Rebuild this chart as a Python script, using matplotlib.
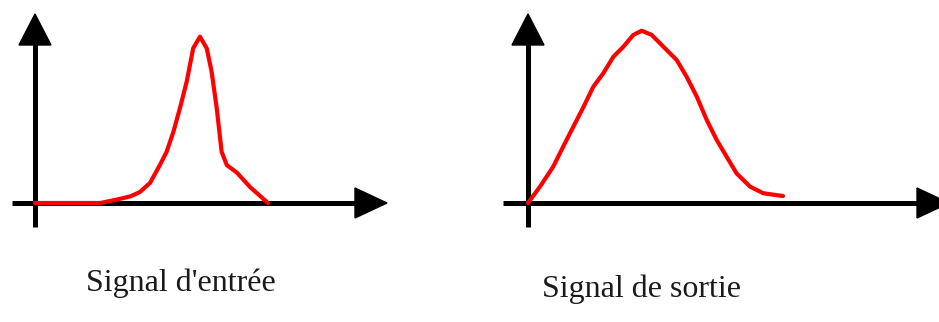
import matplotlib
matplotlib.use("Agg")
import matplotlib.pyplot as plt
from matplotlib.patches import Polygon

# -------------------------
# Data (time in arbitrary units, amplitude normalised)
# -------------------------
t_in = [0, 2.8, 3.5, 4.1, 4.5, 4.94, 5.36, 5.65, 5.94, 6.22, 6.51, 6.79,
        7.08, 7.37, 7.58, 7.80, 8.01, 8.23, 8.67, 9.23, 10.0]
a_in = [0, 0, 0.02, 0.04, 0.065, 0.12, 0.226, 0.305, 0.424, 0.564, 0.722,
        0.921, 0.99, 0.921, 0.782, 0.564, 0.305, 0.226, 0.18, 0.095, 0]

t_out = [0, 0.47, 0.99, 1.38, 1.78, 2.18, 2.56, 2.95, 3.35, 3.74, 4.13,
         4.46, 4.85, 5.44, 5.83, 6.22, 6.62, 7.01, 7.40, 7.79, 8.18, 8.71,
         9.23, 10.0]
a_out = [0, 0.094, 0.209, 0.324, 0.439, 0.553, 0.668, 0.745, 0.841, 0.898,
         0.966, 0.99, 0.966, 0.879, 0.822, 0.726, 0.611, 0.477, 0.362,
         0.266, 0.17, 0.094, 0.056, 0.04]

labels = ["Signal d'entrée", "Signal de sortie"]

W, H = 939, 322
fig = plt.figure(figsize=(W / 100, H / 100), dpi=100)
fig.patch.set_facecolor("white")


def panel(x0, x1, ox, oy, sx, sy):
    # axes covering pixels x0..x1, 0..240, origin of data at (ox, oy)
    ax = fig.add_axes([x0 / W, (H - 240) / H, (x1 - x0) / W, 240 / H])
    ax.set_xlim((x0 - ox) / sx, (x1 - ox) / sx)
    ax.set_ylim((oy - 240) / sy, oy / sy)
    ax.axis("off")
    return ax


ax1 = panel(0, 400, 35, 203, 23.3, 168)
ax1.plot(t_in, a_in, color="#ff0000", lw=3.0, solid_joinstyle="round",
         solid_capstyle="round", zorder=3)

ax2 = panel(490, 939, 528, 203, 25.5, 174)
ax2.plot(t_out, a_out, color="#ff0000", lw=3.0, solid_joinstyle="round",
         solid_capstyle="round", zorder=3)

# -------------------------
# Arrow axes (drawn in pixel space)
# -------------------------
deco = fig.add_axes([0, 0, 1, 1], zorder=-1)
deco.set_xlim(0, W)
deco.set_ylim(H, 0)
deco.axis("off")


def arrow_axes(ox, oy, x_start, x_end, y_start, y_end):
    lw = 3.6
    deco.plot([x_start, x_end - 30], [oy, oy], color="black", lw=lw,
              solid_capstyle="butt")
    deco.add_patch(Polygon([(x_end - 32, oy - 15), (x_end - 32, oy + 15),
                            (x_end, oy)], closed=True, color="black"))
    deco.plot([ox, ox], [y_start, y_end + 30], color="black", lw=lw,
              solid_capstyle="butt")
    deco.add_patch(Polygon([(ox - 16, y_end + 31), (ox + 16, y_end + 31),
                            (ox, y_end)], closed=True, color="black"))


arrow_axes(35, 203, 12, 387, 227, 14)
arrow_axes(528, 203, 503, 949, 227, 14)

fig.text(86 / W, 1 - 291 / H, labels[0], family="Liberation Serif",
         fontsize=23, ha="left", va="baseline", color="#1a1a1a")
fig.text(542 / W, 1 - 297 / H, labels[1], family="Liberation Serif",
         fontsize=23, ha="left", va="baseline", color="#1a1a1a")

fig.savefig("out.png", dpi=100, facecolor="white")
